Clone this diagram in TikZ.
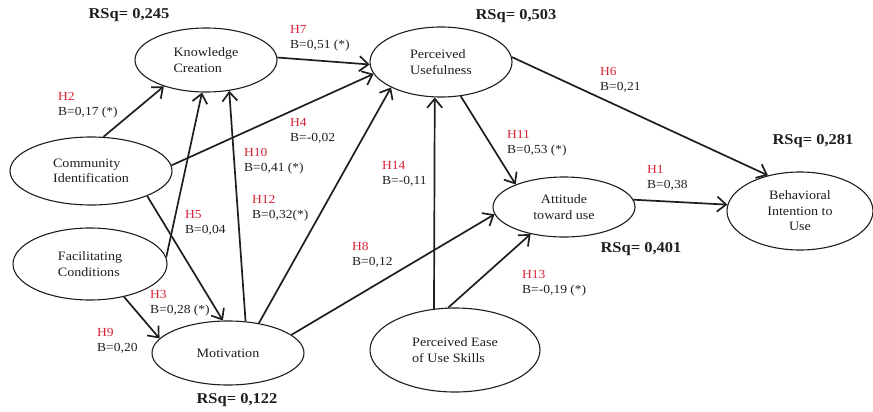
\documentclass[tikz,border=0pt]{standalone}
\usepackage{fontspec}
\setmainfont[FakeStretch=1.1]{Liberation Serif}
\usetikzlibrary{shapes.geometric,arrows.meta}
\definecolor{hred}{RGB}{215,35,55}
\definecolor{ink}{RGB}{30,30,30}
\begin{document}
\begin{tikzpicture}[x=1pt,y=-1pt,
  construct/.style={ellipse,draw=ink,line width=1.1pt,inner sep=0pt,
    font=\fontsize{12.8}{15.5}\selectfont,align=left,text=ink},
  link/.style={line width=1.7pt,draw=ink,-{Straight Barb[length=9pt,width=15pt]}},
  hlabel/.style={anchor=north west,inner sep=0pt,align=left,
    font=\fontsize{12.3}{15.5}\selectfont,text=ink},
  rsq/.style={inner sep=0pt,font=\bfseries\fontsize{15}{18}\selectfont,text=ink}]
\useasboundingbox (0,0) rectangle (873,412);

% constructs
\node[construct,minimum width=142pt,minimum height=64pt] (kc) at (206,60) {Knowledge\\Creation};
\node[construct,minimum width=142pt,minimum height=70pt] (pu) at (441,62) {Perceived\\Usefulness};
\node[construct,minimum width=162pt,minimum height=68pt] (ci) at (91,171) {Community\\Identification};
\node[construct,minimum width=154pt,minimum height=72pt] (fc) at (90,264) {Facilitating\\Conditions};
\node[construct,minimum width=152pt,minimum height=64pt] (mot) at (228,353) {Motivation};
\node[construct,minimum width=170pt,minimum height=84pt] (peou) at (455,350) {Perceived Ease\\of Use Skills};
\node[construct,align=center,minimum width=142pt,minimum height=60pt] (att) at (564,207) {Attitude\\toward use};
\node[construct,align=center,minimum width=146pt,minimum height=78pt] (bi) at (800,211) {Behavioral\\Intention to\\Use};

% R squared
\node[rsq] (r1) at (129,15) {RSq= 0,245};
\node[rsq] (r2) at (516,16) {RSq= 0,503};
\node[rsq] (r3) at (813,141) {RSq= 0,281};
\node[rsq] (r4) at (641,249) {RSq= 0,401};
\node[rsq] (r5) at (237,400) {RSq= 0,122};

% paths
\draw[link] (kc.2) -- (pu.182);
\draw[link] (ci.70) -- (kc.212);
\draw[link] (ci.4) -- (pu.190);
\draw[link] (ci.336) -- (mot.99);
\draw[link] (fc.5) -- (kc.263);
\draw[link] (fc.316) -- (mot.168);
\draw[link] (mot.61) -- (kc.307);
\draw[link] (mot.44) -- (pu.207);
\draw[link] (mot.16) -- (att.186);
\draw[link] (peou.117) -- (pu.260);
\draw[link] (peou.99) -- (att.219);
\draw[link] (pu.300) -- (att.155);
\draw[link] (pu.4) -- (bi.132);
\draw[link] (att.6) -- (bi.175);

% hypothesis labels
\node[hlabel] (h7) at (290,25) {\textcolor{hred}{H7}\\B=0,51 (*)};
\node[hlabel] (h2) at (58,92) {\textcolor{hred}{H2}\\B=0,17 (*)};
\node[hlabel] (h4) at (290,118) {\textcolor{hred}{H4}\\B=-0,02};
\node[hlabel] (h10) at (244,148) {\textcolor{hred}{H10}\\B=0,41 (*)};
\node[hlabel] (h14) at (382,161) {\textcolor{hred}{H14}\\B=-0,11};
\node[hlabel] (h12) at (252,195) {\textcolor{hred}{H12}\\B=0,32(*)};
\node[hlabel] (h5) at (185,210) {\textcolor{hred}{H5}\\B=0,04};
\node[hlabel] (h8) at (352,242) {\textcolor{hred}{H8}\\B=0,12};
\node[hlabel] (h3) at (150,290) {\textcolor{hred}{H3}\\B=0,28 (*)};
\node[hlabel] (h9) at (97,328) {\textcolor{hred}{H9}\\B=0,20};
\node[hlabel] (h6) at (600,67) {\textcolor{hred}{H6}\\B=0,21};
\node[hlabel] (h11) at (507,130) {\textcolor{hred}{H11}\\B=0,53 (*)};
\node[hlabel] (h1) at (647,165) {\textcolor{hred}{H1}\\B=0,38};
\node[hlabel] (h13) at (522,270) {\textcolor{hred}{H13}\\B=-0,19 (*)};
\end{tikzpicture}
\end{document}
